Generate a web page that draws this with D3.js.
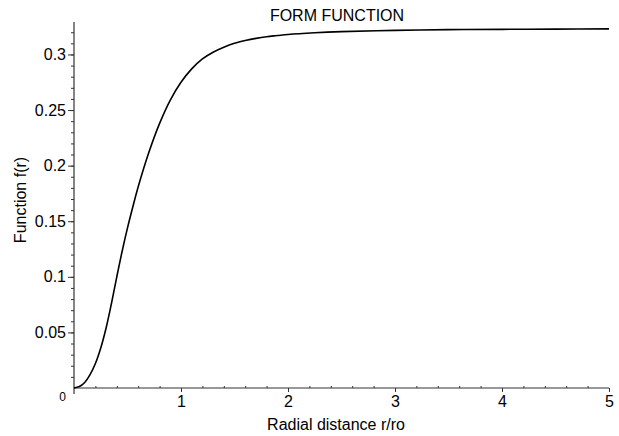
<!DOCTYPE html>
<html>
<head>
<meta charset="utf-8">
<script src="https://cdn.jsdelivr.net/npm/d3@7"></script>
<style>
  html, body { margin: 0; padding: 0; background: #fff; }
  svg { display: block; }
  text { font-family: "Liberation Sans", Arial, Helvetica, sans-serif; fill: #000; }
</style>
</head>
<body>
<svg id="chart" width="619" height="436"></svg>
<script>
// ---- data ----
const radius = [0, 0.05, 0.1, 0.15, 0.2, 0.25, 0.3, 0.35, 0.4, 0.45, 0.5, 0.55, 0.6, 0.7, 0.8, 0.9, 1.0, 1.1, 1.2, 1.3, 1.4, 1.5, 1.6, 1.7, 1.8, 1.9, 2.0, 2.25, 2.5, 3.0, 3.5, 4.0, 4.5, 5.0];
const formValue = [0, 0.0013, 0.005, 0.012, 0.022, 0.036, 0.054, 0.076, 0.100, 0.123, 0.144, 0.163, 0.181, 0.212, 0.238, 0.259, 0.275, 0.287, 0.296, 0.302, 0.3065, 0.310, 0.3125, 0.3145, 0.316, 0.317, 0.318, 0.3195, 0.3205, 0.3217, 0.3223, 0.3226, 0.3228, 0.323];
const xMajorTicks = [1, 2, 3, 4, 5];
const yMajorTicks = [0.05, 0.1, 0.15, 0.2, 0.25, 0.3];
const yMinorTicks = d3.range(1, 33).map(i => i / 100);
const xMinorTicks = d3.range(1, 26).map(i => i / 5);
const title = "FORM FUNCTION";
const xTitle = "Radial distance r/ro";
const yTitle = "Function f(r)";

const svg = d3.select("#chart");
const x = d3.scaleLinear().domain([0, 5]).range([74, 609]);
const y = d3.scaleLinear().domain([0, 0.3292]).range([388, 22]);
const axisColor = "#333";

// y axis minor ticks
const yMinor = svg.append("g").attr("transform", `translate(${x(0)},0)`)
  .call(d3.axisLeft(y).tickValues(yMinorTicks).tickSize(3).tickFormat(""));
// y axis major
const yAxis = svg.append("g").attr("transform", `translate(${x(0)},0)`)
  .call(d3.axisLeft(y).tickValues(yMajorTicks).tickSize(6).tickPadding(2)
    .tickFormat(d => d3.format("~g")(d)));
[yMinor, yAxis].forEach(g => {
  g.selectAll("path.domain").remove();
  g.selectAll("line").attr("stroke", axisColor);
});
yAxis.selectAll("text").style("font-size", "16px").attr("fill", "#000");

// y axis line (extends a little below x axis)
svg.append("line").attr("x1", x(0)).attr("x2", x(0))
  .attr("y1", y(0.3292)).attr("y2", y(0) + 6)
  .attr("stroke", axisColor).attr("stroke-width", 1.2);

// x axis minor ticks (upward)
const xMinor = svg.append("g").attr("transform", `translate(0,${y(0)})`)
  .call(d3.axisTop(x).tickValues(xMinorTicks.filter(v => !xMajorTicks.includes(v))).tickSize(2).tickFormat(""));
const xAxis = svg.append("g").attr("transform", `translate(0,${y(0)})`)
  .call(d3.axisBottom(x).tickValues(xMajorTicks).tickSize(4).tickPadding(4)
    .tickFormat(d => d3.format("~g")(d)));
[xMinor, xAxis].forEach(g => {
  g.selectAll("path.domain").remove();
  g.selectAll("line").attr("stroke", axisColor);
});
xAxis.selectAll("text").style("font-size", "16px").attr("fill", "#000");

svg.append("line").attr("x1", x(0)).attr("x2", x(5))
  .attr("y1", y(0)).attr("y2", y(0))
  .attr("stroke", axisColor).attr("stroke-width", 1.2);

// origin label
svg.append("text").attr("x", x(0) - 8).attr("y", y(0) + 13)
  .attr("text-anchor", "end").style("font-size", "12px").text("0");

// curve
const pts = radius.map((r, i) => [r, formValue[i]]);
svg.append("path").datum(pts)
  .attr("fill", "none").attr("stroke", "#000").attr("stroke-width", 1.6)
  .attr("d", d3.line().x(d => x(d[0])).y(d => y(d[1])).curve(d3.curveCatmullRom.alpha(0.5)));

// titles
svg.append("text").attr("x", 337).attr("y", 21).attr("text-anchor", "middle")
  .style("font-size", "16px").text(title);
svg.append("text").attr("x", 336).attr("y", 430).attr("text-anchor", "middle")
  .style("font-size", "16px").text(xTitle);
svg.append("text").attr("transform", "translate(26,200) rotate(-90)")
  .attr("text-anchor", "middle").style("font-size", "16px").text(yTitle);
</script>
</body>
</html>
